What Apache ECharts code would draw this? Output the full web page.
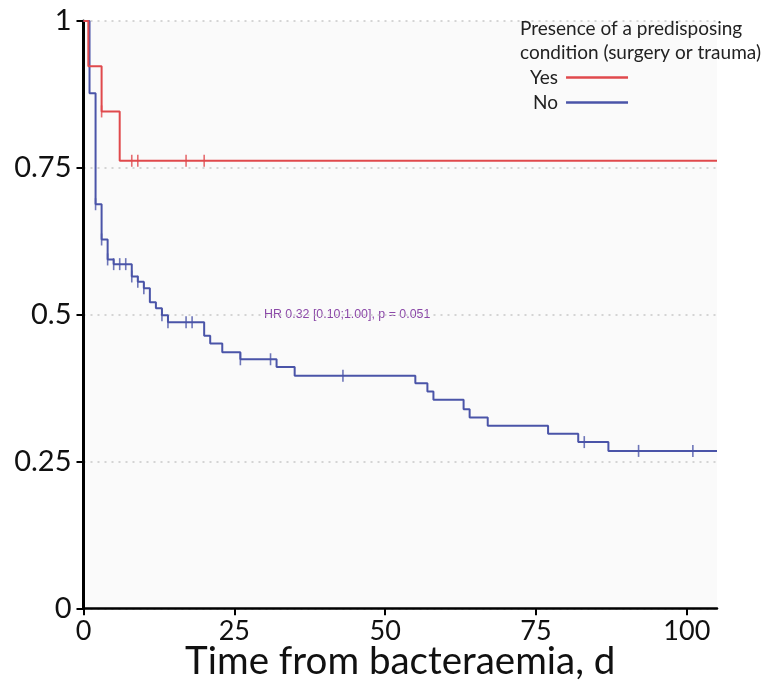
<!DOCTYPE html>
<html>
<head>
<meta charset="utf-8">
<script src="https://cdn.jsdelivr.net/npm/echarts@6/dist/echarts.min.js"></script>
<style>
html,body{margin:0;padding:0;background:#ffffff;}
#chart{width:769px;height:698px;}
</style>
</head>
<body>
<div id="chart"></div>
<script>
// ---- data ----
const yesTimes = [0, 0.8, 3, 6, 105];
const yesSurv  = [1, 0.923, 0.846, 0.762, 0.762];
const yesCensorTimes = [3, 8, 9, 17, 20];

const noTimes = [0, 1, 2, 3, 4, 5, 8, 9, 10, 11, 12, 13, 14, 20, 21, 23, 26, 32, 35, 55, 57, 58, 63, 64, 67, 77, 82, 87, 105];
const noSurv  = [1, 0.877, 0.688, 0.628, 0.594, 0.586, 0.565, 0.556, 0.545, 0.521, 0.511, 0.499, 0.487, 0.464, 0.451, 0.436, 0.424, 0.411, 0.396, 0.383, 0.369, 0.355, 0.339, 0.325, 0.311, 0.297, 0.283, 0.268, 0.268];
const noCensorTimes = [2, 3, 4, 5, 6, 7, 8, 9, 10, 13, 14, 17, 18, 26, 31, 43, 83, 92, 101];

const xTicks = [0, 25, 50, 75, 100];
const legendTitle = 'Presence of a predisposing\ncondition (surgery or trauma)';
const groupNames = ['Yes', 'No'];
const annotation = 'HR 0.32 [0.10;1.00], p = 0.051';
const xTitle = 'Time from bacteraemia, d';

const RED = '#e0494c';
const BLUE = '#4a54a8';

function pairs(ts, ss) { return ts.map((t, i) => [t, ss[i]]); }
function survAt(ts, ss, t) {
  let v = ss[0];
  for (let i = 0; i < ts.length; i++) { if (ts[i] <= t) v = ss[i]; }
  return v;
}
function censors(ts, ss, cs) { return cs.map(t => [t, survAt(ts, ss, t)]); }

const chart = echarts.init(document.getElementById('chart'), null, {renderer: 'canvas'});
const FONT = 'Lato';

chart.setOption({
  animation: false,
  backgroundColor: '#ffffff',
  title: {
    text: legendTitle,
    left: 515, top: 12,
    textStyle: {fontFamily: FONT, fontSize: 19, fontWeight: 'normal', color: '#222', lineHeight: 24}
  },
  legend: {
    data: groupNames,
    orient: 'vertical',
    left: 525, top: 63,
    align: 'right',
    itemWidth: 62, itemHeight: 2.5, itemGap: 6,
    icon: 'rect',
    textStyle: {fontFamily: FONT, fontSize: 19, color: '#222', padding: [0, 3, 0, 0]}
  },
  graphic: [{
    type: 'text',
    left: 262, top: 308,
    style: {text: annotation, fontFamily: 'Liberation Sans', fontSize: 12.4, fill: '#8b48a8',
      backgroundColor: '#fafafa', padding: [1, 2]}
  }],
  grid: {left: 83.5, right: 52, top: 21, bottom: 89.7, show: true, backgroundColor: '#fafafa', borderWidth: 0},
  xAxis: {
    type: 'value', min: 0, max: 105,
    name: xTitle, nameLocation: 'middle', nameGap: 34, nameMoveOverlap: false,
    nameTextStyle: {fontFamily: FONT, fontSize: 38.5, color: '#111'},
    axisLine: {lineStyle: {color: '#000', width: 2.5}},
    axisTick: {customValues: xTicks, length: 7, lineStyle: {color: '#000', width: 2}},
    axisLabel: {customValues: xTicks, fontFamily: FONT, fontSize: 27, color: '#111', margin: 9},
    splitLine: {show: false}
  },
  yAxis: {
    type: 'value', min: 0, max: 1, interval: 0.25,
    axisLine: {show: true, lineStyle: {color: '#000', width: 3}},
    axisTick: {show: true, length: 7, lineStyle: {color: '#000', width: 2}},
    axisLabel: {fontFamily: FONT, fontSize: 29, color: '#111', margin: 12},
    splitLine: {show: true, lineStyle: {color: '#c8c8c8', type: [2, 5], width: 1.5}}
  },
  series: [
    {
      name: 'No', type: 'line', step: 'end', data: pairs(noTimes, noSurv),
      showSymbol: false, lineStyle: {color: BLUE, width: 2}, itemStyle: {color: BLUE}, z: 2
    },
    {
      name: 'No censored', type: 'scatter', data: censors(noTimes, noSurv, noCensorTimes),
      symbol: 'rect', symbolSize: [1.6, 12], itemStyle: {color: BLUE}, z: 2
    },
    {
      name: 'Yes', type: 'line', step: 'end', data: pairs(yesTimes, yesSurv),
      showSymbol: false, lineStyle: {color: RED, width: 2}, itemStyle: {color: RED}, z: 3
    },
    {
      name: 'Yes censored', type: 'scatter', data: censors(yesTimes, yesSurv, yesCensorTimes),
      symbol: 'rect', symbolSize: [1.6, 12], itemStyle: {color: RED}, z: 3
    }
  ]
});
</script>
</body>
</html>
